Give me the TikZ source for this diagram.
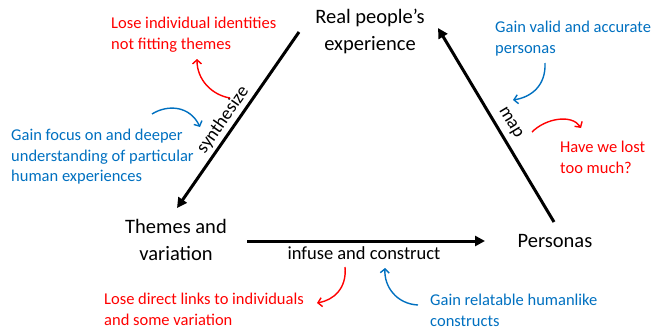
\documentclass[tikz,border=0pt]{standalone}
\usepackage{fontspec}
\setmainfont{Carlito}
\usetikzlibrary{arrows.meta}
\definecolor{gainblue}{RGB}{0,112,192}
\definecolor{losered}{RGB}{255,0,0}
\begin{document}
\begin{tikzpicture}[x=1pt,y=-1pt,
    main/.style={font=\fontsize{20.5}{26.5}\selectfont,align=center,inner sep=0pt},
    verb/.style={font=\fontsize{18.5}{22}\selectfont,inner sep=0pt},
    gain/.style={text=gainblue,font=\fontsize{16.5}{20.5}\selectfont,align=left,anchor=west,inner sep=0pt},
    lose/.style={gain,text=losered},
    bigarrow/.style={-{Triangle[length=10pt,width=10pt]},line width=3pt},
    gainarrow/.style={-{Straight Barb[length=4pt,width=9pt]},line width=1.4pt,gainblue},
    losearrow/.style={gainarrow,losered}]
    \useasboundingbox (0,0) rectangle (652,329);
    % the three corners
    \node[main] (real) at (370,31.5) {Real people’s\\experience};
    \node[main] (themes) at (176,240) {Themes and\\variation};
    \node[main] (personas) at (555,241) {Personas};
    \coordinate (synfrom) at (299,32);
    \coordinate (synto) at (177,208);
    \coordinate (inffrom) at (247,241);
    \coordinate (infto) at (485,241);
    \coordinate (mapfrom) at (554,222);
    \coordinate (mapto) at (438,28);
    \draw[bigarrow] (synfrom) -- (synto);
    \draw[bigarrow] (inffrom) -- (infto);
    \draw[bigarrow] (mapfrom) -- (mapto);
    \node[verb,rotate=55] (synth) at (223,120) {synthesize};
    \node[verb] (infuse) at (364,253) {infuse and construct};
    \node[verb,rotate=-59] (map) at (510,123) {map};
    % gains and losses
    \node[lose] (losesyn) at (111,34.5) {Lose individual identities\\not fitting themes};
    \node[gain] (gainsyn) at (11,157) {Gain focus on and deeper\\understanding of particular\\human experiences};
    \node[gain] (gainmap) at (495,38.5) {Gain valid and accurate\\personas};
    \node[lose] (losemap) at (560,157.5) {Have we lost\\too much?};
    \node[lose] (loseinf) at (104,309.5) {Lose direct links to individuals\\and some variation};
    \node[gain] (gaininf) at (430,310.5) {Gain relatable humanlike\\constructs};
    \coordinate (a1) at (230,98);  \coordinate (b1) at (197,59);
    \coordinate (a2) at (152,114); \coordinate (b2) at (200,127);
    \coordinate (a3) at (545,63);  \coordinate (b3) at (513,100);
    \coordinate (a4) at (532,132); \coordinate (b4) at (581,128);
    \coordinate (a5) at (345,267); \coordinate (b5) at (317,303);
    \coordinate (a6) at (418,305); \coordinate (b6) at (385,268);
    \draw[losearrow] (a1) .. controls (212,95) and (197,80) .. (b1);
    \draw[gainarrow] (a2) .. controls (168,104) and (190,106) .. (b2);
    \draw[gainarrow] (a3) .. controls (546,85) and (532,97) .. (b3);
    \draw[losearrow] (a4) .. controls (546,118) and (572,114) .. (b4);
    \draw[losearrow] (a5) .. controls (347,288) and (334,300) .. (b5);
    \draw[gainarrow] (a6) .. controls (397,304) and (384,287) .. (b6);
\end{tikzpicture}
\end{document}
